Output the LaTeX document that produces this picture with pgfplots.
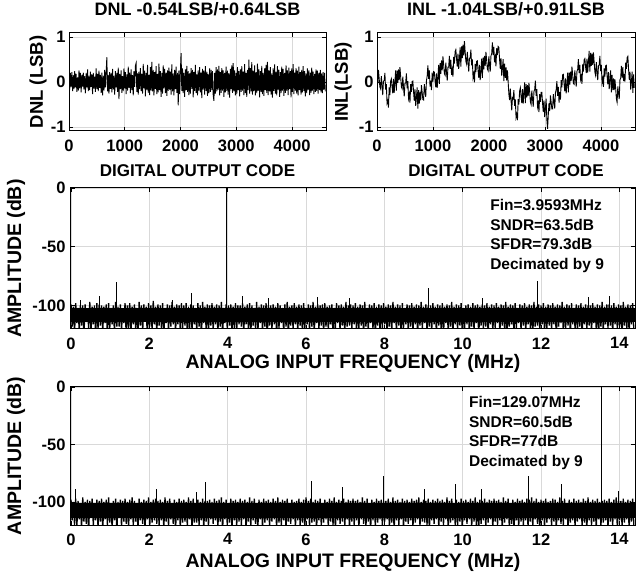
\documentclass[border=0pt]{standalone}
\usepackage{fontspec}
\setmainfont{Liberation Sans}
\usepackage{pgfplots}
\pgfplotsset{compat=1.18}
\usepackage{pgfplotstable}

\newcommand\ticksz{\fontsize{16.5}{19}\selectfont\bfseries}
\newcommand\labsm{\fontsize{17}{20}\selectfont\bfseries}
\newcommand\ylabsm{\fontsize{18.5}{21}\selectfont\bfseries}
\newcommand\labbig{\fontsize{19.5}{22}\selectfont\bfseries}
\newcommand\notesz{\fontsize{15.5}{19.5}\selectfont\bfseries}

% DNL, one value per code group (step 12.8 codes)
\pgfplotstableread[row sep=\\,header=false]{
0.12\\-0.18\\0.2\\-0.1\\0.22\\-0.2\\0.15\\-0.16\\0.24\\-0.12\\0.18\\-0.22\\0.1\\-0.19\\0.26\\-0.14\\0.2\\-0.23\\0.16\\-0.1\\
0.21\\-0.17\\0.13\\-0.25\\0.19\\-0.12\\0.28\\-0.2\\0.14\\-0.18\\0.23\\-0.11\\0.17\\-0.27\\0.2\\-0.15\\0.12\\-0.22\\0.3\\-0.16\\
0.18\\-0.2\\0.25\\-0.13\\0.16\\-0.24\\0.21\\-0.3\\0.14\\-0.19\\0.27\\-0.12\\0.2\\0.55\\-0.21\\0.16\\-0.26\\0.22\\-0.15\\0.19\\
-0.23\\0.29\\-0.17\\0.14\\-0.28\\0.24\\-0.12\\0.2\\-0.22\\0.32\\-0.38\\0.18\\-0.16\\0.26\\-0.24\\0.13\\-0.2\\0.3\\-0.14\\0.22\\
-0.27\\0.17\\-0.19\\0.34\\-0.13\\0.21\\-0.25\\0.28\\-0.18\\0.15\\-0.3\\0.24\\-0.11\\0.36\\0.42\\-0.22\\0.19\\-0.28\\0.23\\-0.16\\
0.31\\-0.2\\0.18\\-0.26\\0.4\\-0.14\\0.25\\-0.32\\0.2\\-0.17\\0.38\\-0.24\\0.16\\-0.29\\0.33\\-0.19\\0.45\\-0.21\\0.27\\-0.3\\
0.22\\-0.15\\0.35\\-0.27\\0.18\\-0.23\\0.41\\-0.18\\0.24\\-0.33\\0.2\\-0.26\\0.37\\-0.14\\0.29\\-0.25\\0.21\\-0.31\\0.26\\-0.2\\
0.32\\-0.17\\0.23\\-0.28\\0.39\\-0.21\\0.19\\-0.3\\0.27\\-0.16\\0.34\\-0.24\\0.2\\-0.52\\0.25\\-0.27\\0.22\\0.64\\-0.2\\0.3\\
-0.25\\0.2\\-0.33\\0.28\\-0.18\\0.36\\-0.22\\0.24\\-0.29\\0.19\\-0.26\\0.31\\-0.15\\0.27\\-0.34\\0.22\\-0.2\\0.38\\-0.24\\0.17\\
-0.3\\0.26\\-0.19\\0.33\\-0.23\\0.21\\-0.36\\0.29\\-0.17\\0.25\\-0.28\\0.35\\-0.2\\0.23\\-0.31\\0.18\\-0.25\\0.3\\-0.22\\0.27\\
-0.18\\0.24\\-0.29\\-0.42\\0.2\\-0.26\\0.33\\-0.21\\0.28\\-0.17\\0.36\\-0.3\\0.22\\-0.24\\0.31\\-0.19\\0.26\\-0.33\\0.2\\-0.23\\
0.34\\-0.2\\0.25\\-0.28\\0.19\\-0.35\\0.29\\-0.16\\0.37\\-0.24\\0.42\\-0.21\\0.26\\-0.3\\0.2\\-0.27\\0.33\\-0.18\\0.24\\-0.32\\
0.28\\-0.22\\0.35\\-0.19\\0.23\\-0.29\\0.4\\-0.25\\0.2\\-0.33\\0.27\\-0.18\\0.5\\-0.26\\0.31\\-0.21\\0.44\\-0.28\\0.25\\-0.2\\
0.37\\-0.3\\0.22\\-0.25\\0.41\\-0.19\\0.28\\-0.34\\0.24\\-0.22\\0.36\\-0.27\\0.2\\-0.31\\0.3\\-0.18\\0.38\\-0.24\\0.45\\-0.29\\
0.26\\-0.21\\0.33\\-0.28\\0.19\\-0.35\\0.3\\-0.2\\0.39\\-0.26\\0.23\\-0.3\\0.35\\-0.17\\0.27\\-0.33\\0.22\\-0.25\\0.34\\-0.19\\
0.29\\-0.31\\0.2\\-0.24\\0.37\\-0.2\\0.26\\-0.29\\0.32\\-0.16\\0.24\\-0.34\\0.3\\-0.22\\0.4\\-0.27\\0.21\\-0.19\\0.31\\-0.26\\
0.25\\-0.3\\0.34\\-0.18\\0.22\\-0.28\\0.27\\-0.23\\0.35\\-0.2\\0.24\\-0.32\\0.19\\-0.25\\0.3\\-0.17\\0.26\\-0.29\\0.21\\-0.24\\
0.32\\-0.19\\0.23\\-0.27\\0.18\\-0.22\\0.28\\-0.2\\0.25\\-0.26\\0.2\\-0.18\\0.27\\-0.23\\0.19\\-0.25\\0.22\\-0.17\\0.2\\-0.21\\
}\dnl

% INL, same code step, five values per line
\pgfplotstableread[row sep=\\,header=false]{
0.18\\-0.04\\0.27\\0.08\\-0.11\\
-0.15\\0.13\\-0.07\\-0.29\\0.02\\
0.03\\0.2\\-0.17\\-0.05\\-0.47\\
-0.42\\-0.57\\-0.12\\-0.29\\0.02\\
0.07\\-0.11\\-0.25\\0.07\\-0.24\\
0.0\\0.26\\-0.19\\0.25\\-0.02\\
0.28\\0.04\\0.33\\0.12\\-0.11\\
-0.15\\0.12\\-0.11\\-0.32\\-0.03\\
-0.02\\0.19\\-0.14\\0.02\\-0.36\\
-0.27\\-0.46\\-0.05\\-0.22\\0.01\\
0.02\\-0.22\\-0.42\\-0.16\\-0.53\\
-0.35\\-0.12\\-0.59\\-0.18\\-0.48\\
-0.22\\-0.41\\-0.07\\-0.23\\-0.39\\
-0.4\\-0.05\\-0.2\\-0.33\\0.03\\
0.13\\0.37\\0.07\\0.26\\-0.1\\
0.03\\-0.18\\0.21\\0.01\\0.23\\
0.22\\0.03\\-0.12\\0.19\\-0.13\\
0.1\\0.38\\-0.04\\0.42\\0.18\\
0.48\\0.26\\0.57\\0.38\\0.19\\
0.15\\0.43\\0.21\\0.03\\0.33\\
0.33\\0.58\\0.29\\0.49\\0.16\\
0.28\\0.12\\0.56\\0.41\\0.68\\
0.72\\0.51\\0.34\\0.63\\0.29\\
0.5\\0.77\\0.34\\0.79\\0.53\\
0.83\\0.59\\0.91\\0.67\\0.46\\
0.4\\0.67\\0.44\\0.23\\0.53\\
0.53\\0.72\\0.37\\0.5\\0.1\\
0.18\\-0.01\\0.4\\0.22\\0.46\\
0.47\\0.26\\0.09\\0.38\\0.04\\
0.25\\0.52\\0.09\\0.54\\0.28\\
0.58\\0.36\\0.67\\0.48\\0.29\\
0.25\\0.57\\0.39\\0.23\\0.58\\
0.63\\0.88\\0.6\\0.78\\0.44\\
0.56\\0.35\\0.75\\0.6\\0.79\\
0.77\\0.51\\0.29\\0.53\\0.14\\
0.3\\0.51\\0.02\\0.41\\0.09\\
0.33\\0.03\\0.26\\0.0\\-0.27\\
-0.4\\-0.15\\-0.4\\-0.63\\-0.35\\
-0.37\\-0.18\\-0.53\\-0.39\\-0.79\\
-0.72\\-0.85\\-0.38\\-0.5\\-0.2\\
-0.13\\-0.32\\-0.47\\-0.16\\-0.48\\
-0.25\\-0.01\\-0.47\\-0.05\\-0.34\\
-0.07\\-0.31\\-0.02\\-0.22\\-0.44\\
-0.5\\-0.19\\-0.38\\-0.55\\-0.21\\
-0.17\\0.03\\-0.31\\-0.16\\-0.55\\
-0.47\\-0.67\\-0.27\\-0.44\\-0.23\\
-0.23\\-0.47\\-0.67\\-0.41\\-0.78\\
-0.6\\-0.37\\-0.84\\-1.04\\-0.73\\
-0.47\\-0.65\\-0.3\\-0.45\\-0.6\\
-0.6\\-0.27\\-0.44\\-0.59\\-0.24\\
-0.17\\0.02\\-0.31\\-0.11\\-0.46\\
-0.22\\-0.39\\0.04\\-0.12\\0.16\\
0.17\\-0.04\\-0.21\\0.08\\-0.25\\
-0.05\\0.21\\-0.23\\0.21\\-0.06\\
0.23\\0.02\\0.34\\0.16\\-0.03\\
-0.05\\0.26\\0.07\\-0.1\\0.24\\
0.28\\0.51\\0.2\\0.38\\0.06\\
0.13\\-0.04\\0.39\\0.23\\0.49\\
0.52\\0.34\\0.2\\0.52\\0.21\\
0.45\\0.69\\0.23\\0.65\\0.36\\
0.63\\0.38\\0.66\\0.44\\0.22\\
0.15\\0.44\\0.23\\0.04\\0.36\\
0.38\\0.58\\0.24\\0.38\\-0.01\\
0.08\\-0.11\\0.3\\0.12\\0.36\\
0.37\\0.14\\-0.05\\0.22\\-0.16\\
0.05\\0.26\\-0.23\\0.16\\-0.18\\
0.08\\-0.18\\0.06\\-0.14\\-0.37\\
-0.45\\-0.1\\-0.25\\-0.38\\0.05\\
0.08\\0.36\\0.1\\0.33\\0.02\\
0.18\\0.01\\0.43\\0.29\\0.54\\
0.57\\0.29\\0.05\\0.23\\-0.17\\
0.0\\0.23\\-0.24\\0.17\\-0.13\\
}\inl

% noise floor, Fin = 3.9593 MHz (bin step 0.03 MHz)
\pgfplotstableread[row sep=\\,header=false]{
-99\\-118\\-101\\-124\\-98\\-115\\-102\\-121\\-100\\-117\\-100\\-126\\-99\\-114\\-103\\-119\\-97\\-123\\-101\\-116\\-100\\-125\\-98\\-120\\
-99\\-117\\-100\\-122\\-101\\-115\\-99\\-127\\-98\\-119\\-102\\-116\\-100\\-124\\-97\\-118\\-101\\-118\\-99\\-121\\-103\\-115\\-98\\-126\\
-100\\-119\\-98\\-123\\-101\\-116\\-99\\-120\\-102\\-125\\-97\\-117\\-100\\-122\\-99\\-114\\-101\\-128\\-98\\-118\\-100\\-121\\-96\\-116\\
-101\\-124\\-99\\-117\\-100\\-120\\-98\\-126\\-102\\-115\\-99\\-122\\-100\\-118\\-97\\-116\\-101\\-123\\-99\\-116\\-100\\-121\\-98\\-119\\
-100\\-117\\-98\\-125\\-101\\-119\\-99\\-121\\-100\\-116\\-102\\-122\\-98\\-118\\-100\\-127\\-97\\-115\\-101\\-120\\-99\\-124\\-100\\-117\\
-98\\-121\\-101\\-116\\-99\\-123\\-100\\-118\\-97\\-126\\-102\\-115\\-99\\-120\\-100\\-117\\-99\\-124\\-101\\-119\\-98\\-122\\-100\\-116\\
-100\\-118\\-98\\-123\\-101\\-116\\-99\\-121\\-98\\-125\\-100\\-117\\-102\\-119\\-97\\-124\\-101\\-115\\-99\\-122\\-100\\-118\\-98\\-127\\
-100\\-117\\-100\\-121\\-99\\-116\\-101\\-124\\-98\\-119\\-100\\-115\\-102\\-123\\-99\\-118\\-97\\-126\\-101\\-117\\-100\\-120\\-98\\-116\\
-101\\-122\\-99\\-117\\-100\\-125\\-98\\-119\\-102\\-116\\-99\\-121\\-100\\-118\\-97\\-124\\-101\\-115\\-99\\-120\\-100\\-117\\-99\\-123\\
-98\\-118\\-101\\-121\\-100\\-116\\-99\\-126\\-102\\-119\\-98\\-115\\-100\\-122\\-99\\-117\\-101\\-124\\-97\\-118\\-100\\-117\\-99\\-120\\
-100\\-116\\-98\\-123\\-101\\-119\\-99\\-117\\-100\\-125\\-97\\-118\\-102\\-121\\-99\\-115\\-100\\-120\\-98\\-127\\-101\\-117\\-99\\-122\\
-100\\-119\\-98\\-116\\-101\\-124\\-99\\-118\\-100\\-121\\-97\\-115\\-101\\-123\\-99\\-117\\-100\\-126\\-98\\-119\\-102\\-116\\-99\\-121\\
-100\\-118\\-98\\-122\\-101\\-116\\-99\\-125\\-100\\-117\\-97\\-120\\-101\\-115\\-99\\-123\\-100\\-118\\-100\\-121\\-98\\-116\\-101\\-124\\
-99\\-117\\-100\\-120\\-98\\-126\\-101\\-115\\-99\\-122\\-100\\-118\\-97\\-124\\-101\\-116\\-99\\-121\\-100\\-117\\-98\\-125\\-102\\-119\\
-100\\-116\\-99\\-123\\-101\\-118\\-98\\-121\\-100\\-115\\-99\\-126\\-101\\-117\\-99\\-120\\-100\\-118\\-98\\-124\\-101\\-116\\-99\\-122\\
-100\\-119\\-98\\-115\\-101\\-123\\-99\\-117\\-100\\-121\\-97\\-126\\-101\\-118\\-99\\-116\\-100\\-124\\-98\\-119\\-102\\-115\\-99\\-121\\
-100\\-117\\-98\\-123\\-101\\-116\\-99\\-120\\-100\\-125\\-97\\-118\\-101\\-117\\-99\\-122\\-100\\-116\\-98\\-124\\-101\\-119\\-99\\-117\\
-100\\-121\\-98\\-116\\-101\\-126\\-99\\-118\\-100\\-115\\-97\\-123\\-101\\-119\\-99\\-117\\-100\\-124\\-98\\-116\\-102\\-120\\-99\\-122\\
-100\\-118\\-98\\-125\\-101\\-116\\-99\\-121\\-100\\-117\\-100\\-123\\-98\\-115\\-101\\-120\\-99\\-126\\-100\\-118\\-97\\-122\\-101\\-116\\
-99\\-119\\-99\\-117\\-100\\-124\\-98\\-116\\-101\\-121\\-99\\-118\\-100\\-125\\-97\\-117\\-101\\-120\\-99\\-123\\-100\\-116\\-98\\-121\\
}\fftlow

% tone and spurs, Fin = 3.9593 MHz
\pgfplotstableread[row sep=\\]{
f a\\
0.25 -110\\ 0.25 -95\\ 0.25 nan\\
0.73 -110\\ 0.73 -92\\ 0.73 nan\\
1.17 -110\\ 1.17 -80\\ 1.17 nan\\
2.6 -110\\ 2.6 -95\\ 2.6 nan\\
3.08 -110\\ 3.08 -89\\ 3.08 nan\\
3.9593 -110\\ 3.9593 0\\ 3.9593 nan\\
4.38 -110\\ 4.38 -92\\ 4.38 nan\\
5.03 -110\\ 5.03 -94\\ 5.03 nan\\
6.3 -110\\ 6.3 -93\\ 6.3 nan\\
7.1 -110\\ 7.1 -94\\ 7.1 nan\\
9.12 -110\\ 9.12 -85\\ 9.12 nan\\
10.5 -110\\ 10.5 -94\\ 10.5 nan\\
11.92 -110\\ 11.92 -79\\ 11.92 nan\\
13.2 -110\\ 13.2 -93\\ 13.2 nan\\
13.75 -110\\ 13.75 -92\\
}\spurlow

% noise floor, Fin = 129.07 MHz
\pgfplotstableread[row sep=\\,header=false]{
-98\\-116\\-100\\-120\\-97\\-121\\-99\\-115\\-101\\-123\\-96\\-117\\-100\\-119\\-98\\-125\\-99\\-114\\-97\\-120\\-101\\-116\\-98\\-122\\
-99\\-117\\-97\\-124\\-100\\-115\\-98\\-120\\-96\\-118\\-101\\-123\\-99\\-116\\-97\\-126\\-100\\-114\\-98\\-121\\-99\\-117\\-97\\-119\\
-100\\-122\\-98\\-115\\-96\\-120\\-99\\-117\\-101\\-124\\-97\\-116\\-100\\-119\\-98\\-123\\-99\\-115\\-96\\-121\\-100\\-118\\-98\\-116\\
-97\\-119\\-99\\-120\\-98\\-116\\-100\\-123\\-96\\-117\\-99\\-121\\-97\\-115\\-101\\-119\\-98\\-124\\-100\\-116\\-97\\-122\\-99\\-118\\
-98\\-117\\-100\\-121\\-96\\-115\\-99\\-124\\-97\\-118\\-101\\-118\\-98\\-120\\-100\\-116\\-97\\-123\\-99\\-117\\-99\\-121\\-98\\-115\\
-100\\-119\\-97\\-116\\-99\\-122\\-98\\-117\\-96\\-125\\-100\\-115\\-98\\-120\\-101\\-118\\-97\\-123\\-99\\-116\\-98\\-121\\-100\\-117\\
-97\\-120\\-99\\-115\\-98\\-124\\-100\\-117\\-96\\-121\\-99\\-116\\-97\\-119\\-101\\-123\\-98\\-115\\-100\\-122\\-97\\-118\\-99\\-116\\
-98\\-121\\-100\\-117\\-97\\-115\\-99\\-123\\-96\\-118\\-100\\-120\\-98\\-116\\-99\\-124\\-97\\-117\\-101\\-119\\-98\\-115\\-100\\-122\\
-99\\-116\\-97\\-120\\-100\\-118\\-98\\-123\\-96\\-115\\-99\\-121\\-97\\-118\\-100\\-117\\-98\\-124\\-99\\-116\\-97\\-120\\-101\\-118\\
-98\\-115\\-100\\-122\\-97\\-117\\-99\\-120\\-96\\-124\\-100\\-116\\-98\\-119\\-99\\-117\\-97\\-121\\-100\\-115\\-98\\-123\\-99\\-117\\
-97\\-120\\-99\\-116\\-98\\-123\\-100\\-115\\-96\\-119\\-99\\-122\\-97\\-117\\-101\\-124\\-98\\-116\\-100\\-121\\-97\\-118\\-99\\-115\\
-98\\-121\\-99\\-117\\-99\\-115\\-97\\-122\\-100\\-118\\-96\\-124\\-99\\-116\\-98\\-120\\-100\\-115\\-97\\-123\\-99\\-117\\-98\\-119\\
-100\\-116\\-97\\-122\\-99\\-118\\-98\\-115\\-96\\-121\\-100\\-117\\-98\\-118\\-99\\-120\\-97\\-124\\-100\\-116\\-98\\-119\\-99\\-115\\
-97\\-122\\-99\\-117\\-98\\-120\\-100\\-115\\-96\\-123\\-99\\-118\\-97\\-116\\-101\\-120\\-98\\-121\\-100\\-117\\-97\\-124\\-99\\-116\\
-98\\-119\\-100\\-115\\-97\\-122\\-99\\-117\\-96\\-120\\-100\\-124\\-98\\-119\\-99\\-116\\-97\\-121\\-100\\-118\\-98\\-115\\-99\\-123\\
-97\\-117\\-99\\-120\\-98\\-116\\-100\\-123\\-96\\-118\\-99\\-115\\-97\\-121\\-101\\-119\\-98\\-124\\-100\\-116\\-97\\-122\\-99\\-117\\
-98\\-120\\-100\\-116\\-97\\-123\\-98\\-117\\-96\\-121\\-99\\-115\\-97\\-119\\-100\\-124\\-98\\-116\\-99\\-122\\-97\\-118\\-100\\-115\\
-99\\-121\\-97\\-117\\-98\\-124\\-100\\-116\\-96\\-119\\-99\\-120\\-97\\-115\\-101\\-123\\-98\\-118\\-100\\-116\\-97\\-122\\-99\\-117\\
-98\\-115\\-100\\-121\\-97\\-118\\-99\\-124\\-96\\-116\\-100\\-120\\-98\\-117\\-99\\-123\\-97\\-115\\-100\\-121\\-99\\-118\\-98\\-116\\
-99\\-122\\-97\\-117\\-100\\-120\\-98\\-115\\-96\\-124\\-99\\-116\\-99\\-121\\-97\\-118\\-100\\-115\\-98\\-123\\-99\\-117\\-97\\-120\\
}\ffthigh

% tone and spurs, Fin = 129.07 MHz
\pgfplotstableread[row sep=\\]{
f a\\
0.1 -110\\ 0.1 -89\\ 0.1 nan\\
2.18 -110\\ 2.18 -89\\ 2.18 nan\\
3.21 -110\\ 3.21 -91\\ 3.21 nan\\
3.42 -110\\ 3.42 -83\\ 3.42 nan\\
6.15 -110\\ 6.15 -82\\ 6.15 nan\\
6.92 -110\\ 6.92 -87\\ 6.92 nan\\
7.98 -110\\ 7.98 -77.5\\ 7.98 nan\\
9.02 -110\\ 9.02 -89\\ 9.02 nan\\
9.82 -110\\ 9.82 -84.5\\ 9.82 nan\\
10.47 -110\\ 10.47 -89\\ 10.47 nan\\
11.69 -110\\ 11.69 -77\\ 11.69 nan\\
12.52 -110\\ 12.52 -84\\ 12.52 nan\\
13.55 -110\\ 13.55 0\\ 13.55 nan\\
13.97 -110\\ 13.97 -90\\
}\spurhigh

\pgfplotsset{
  adcaxis/.style={
    scale only axis,
    anchor=south west,
    axis line style={line width=1pt},
    tick align=inside,
    tick pos=both,
    major tick length=4pt,
    every tick/.style={black, line width=0.8pt},
    grid=major,
    major grid style={black!15, line width=0.7pt},
    tick label style={font=\ticksz},
    /pgf/number format/assume math mode=true,
    /pgf/number format/1000 sep={},
    scaled ticks=false,
    xticklabel style={yshift=-5pt},
    enlargelimits=false,
    unbounded coords=jump,
  },
  codeaxis/.style={
    adcaxis,
    width=257pt, height=98pt,
    xmin=0, xmax=4608, ymin=-1.09, ymax=1.09,
    xtick={0,1000,2000,3000,4000}, ytick={-1,0,1},
    xlabel={DIGITAL OUTPUT CODE},
    xlabel style={font=\labsm, at={(axis description cs:0.5,-0.408)}, anchor=center},
    title style={font=\labsm\fontsize{18}{21}\selectfont, at={(axis description cs:0.5,1.184)}, anchor=center},
    ylabel style={font=\ylabsm},
  },
  specaxis/.style={
    adcaxis,
    width=564pt,
    xmin=0, xmax=14.4, ymin=-120, ymax=0,
    xtick={0,2,...,14}, ytick={-100,-50,0},
    yticklabel style={xshift=-2pt},
    xlabel={ANALOG INPUT FREQUENCY (MHz)},
    ylabel={AMPLITUDE (dB)},
    label style={font=\labbig},
    ylabel style={at={(axis description cs:-0.0975,0.5)}, anchor=center},
  },
}

\begin{document}
\begin{tikzpicture}
\useasboundingbox (0,0) rectangle (636pt,575pt);

\begin{axis}[codeaxis, at={(69pt,444pt)},
  title={DNL -0.54LSB/+0.64LSB}, ylabel={DNL (LSB)},
  ylabel style={at={(axis description cs:-0.1206,0.5)}, anchor=center}]
\addplot[black, line width=0.9pt] table[x expr=\coordindex*12.8, y index=0]{\dnl};
\end{axis}

\begin{axis}[codeaxis, at={(377pt,444pt)}, width=258pt,
  title={INL -1.04LSB/+0.91LSB}, ylabel={INL(LSB)},
  ylabel style={at={(axis description cs:-0.1318,0.5)}, anchor=center}]
\addplot[black, line width=0.9pt] table[x expr=\coordindex*12.8, y index=0]{\inl};
\end{axis}

\begin{axis}[specaxis, at={(71pt,246pt)}, height=141pt,
  xlabel style={at={(axis description cs:0.5,-0.241)}, anchor=center}]
\addplot[fill=black, draw=none] coordinates {(0,-114) (14.4,-114) (14.4,-102) (0,-102)} -- cycle;
\addplot[black, line width=1.3pt] table[x expr=\coordindex*0.03, y index=0]{\fftlow};
\addplot[black, line width=0.8pt] table[x=f, y=a]{\spurlow};
\node[anchor=north west, align=left, inner sep=0pt, font=\notesz] at (axis cs:10.7,-9.8)
  {Fin=3.9593MHz\\SNDR=63.5dB\\SFDR=79.3dB\\Decimated by 9};
\end{axis}

\begin{axis}[specaxis, at={(71pt,50pt)}, height=138pt,
  xlabel style={at={(axis description cs:0.5,-0.268)}, anchor=center}]
\addplot[fill=black, draw=none] coordinates {(0,-114) (14.4,-114) (14.4,-101) (0,-101)} -- cycle;
\addplot[black, line width=1.3pt] table[x expr=\coordindex*0.03, y index=0]{\ffthigh};
\addplot[black, line width=0.8pt] table[x=f, y=a]{\spurhigh};
\node[anchor=north west, align=left, inner sep=0pt, font=\notesz] at (axis cs:10.16,-8.3)
  {Fin=129.07MHz\\SNDR=60.5dB\\SFDR=77dB\\Decimated by 9};
\end{axis}
\end{tikzpicture}
\end{document}
